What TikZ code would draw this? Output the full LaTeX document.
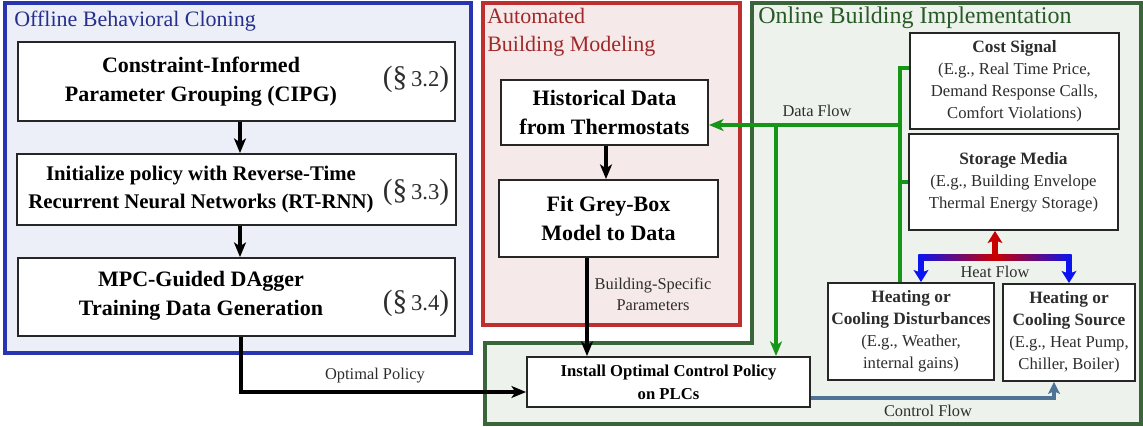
\documentclass[tikz,border=0pt]{standalone}
\usepackage{fontspec}
\setmainfont{Liberation Serif}
\usetikzlibrary{arrows.meta,calc}
\definecolor{bBorder}{RGB}{40,52,176}
\definecolor{bFill}{RGB}{236,238,248}
\definecolor{bTitle}{RGB}{38,48,140}
\definecolor{rBorder}{RGB}{190,48,48}
\definecolor{rFill}{RGB}{246,233,234}
\definecolor{rTitle}{RGB}{160,40,40}
\definecolor{gBorder}{RGB}{58,100,58}
\definecolor{gFill}{RGB}{238,242,236}
\definecolor{gTitle}{RGB}{40,90,40}
\definecolor{dataG}{RGB}{22,150,22}
\definecolor{ctrlB}{RGB}{78,115,148}
\definecolor{heatB}{RGB}{10,20,240}
\definecolor{heatR}{RGB}{200,0,0}
\definecolor{txt}{RGB}{45,45,45}
\newcommand\secref[1]{{\fontsize{22}{24}\selectfont(\S}{\fontsize{17}{20}\selectfont\,#1}{\fontsize{22}{24}\selectfont)}}
\tikzset{
  region/.style={line width=3.5pt},
  box/.style={draw=black!85, line width=1.4pt, fill=white, inner sep=0pt},
  sz/.style 2 args={minimum width=#1*0.75pt, minimum height=#2*0.75pt},
  big/.style={font=\fontsize{16.5}{21.5}\selectfont\bfseries, align=center, text=black, inner sep=0pt},
  mid/.style={font=\fontsize{12.5}{16.5}\selectfont, align=center, text=txt, inner sep=0pt},
  sec/.style={text=txt, inner sep=0pt},
  ttl/.style={font=\fontsize{16.5}{21}\selectfont, inner sep=0pt, align=left},
  lbl/.style={font=\fontsize{12.3}{16}\selectfont, text=txt, inner sep=0pt, align=center},
  blk/.style={line width=2.5pt, -{Stealth[length=11pt,width=9pt,inset=3pt]}},
  grn/.style={draw=dataG, line width=3pt},
  grnA/.style={grn, -{Stealth[length=11pt,width=9pt,inset=3pt]}},
  ctl/.style={draw=ctrlB, line width=2.5pt, -{Stealth[length=9pt,width=9pt,inset=2pt]}},
  hb/.style={draw=heatB, line width=4pt, -{Stealth[length=9pt,width=11pt,inset=2pt]}},
  hr/.style={draw=heatR, line width=4pt, -{Stealth[length=9pt,width=11pt,inset=2pt]}},
}
\begin{document}
\begin{tikzpicture}[x=0.75pt,y=-0.75pt]
\useasboundingbox (0,0) rectangle (1143,427);
% regions
\draw[region, draw=gBorder, fill=gFill] (752,3) -- (1141,3) -- (1141,424) -- (485,424) -- (485,343) -- (752,343) -- cycle;
\draw[region, draw=bBorder, fill=bFill] (5,3) rectangle (471,353);
\draw[region, draw=rBorder, fill=rFill] (483,3) rectangle (740,325);
\node[ttl, text=bTitle, anchor=base west] (tb) at (14,27) {Offline Behavioral Cloning};
\node[ttl, text=rTitle, anchor=north west] (tr) at (487,8) {Automated\\Building Modeling};
\node[ttl, text=gTitle, anchor=base west, font=\fontsize{18}{21}\selectfont] (tg) at (758,24) {Online Building Implementation};
% left boxes
\node[box, sz={437}{79}] (b1) at (236.5,81.5) {};
\node[big] (t1) at (201,81.5) {Constraint-Informed\\Parameter Grouping (CIPG)};
\node[sec] (s1) at (416,79) {\secref{3.2}};
\node[box, sz={439}{71}] (b2) at (236.5,189.5) {};
\node[big, font=\fontsize{15.6}{20.5}\selectfont\bfseries] (t2) at (201,189.5) {Initialize policy with Reverse-Time\\Recurrent Neural Networks (RT-RNN)};
\node[sec] (s2) at (416,192) {\secref{3.3}};
\node[box, sz={437}{78}] (b3) at (236.5,297) {};
\node[big] (t3) at (201,296) {MPC-Guided DAgger\\Training Data Generation};
\node[sec] (s3) at (416,303) {\secref{3.4}};
% middle boxes
\node[box, sz={207}{65}, big] (hist) at (604.5,112.5) {Historical Data\\from Thermostats};
\node[box, sz={219}{77}, big] (fit) at (608.5,218.5) {Fit Grey-Box\\Model to Data};
% right boxes
\node[box, sz={209}{96}, mid] (cost) at (1014.5,81) {{\bfseries\fontsize{13}{16.5}\selectfont Cost Signal}\\(E.g., Real Time Price,\\Demand Response Calls,\\Comfort Violations)};
\node[box, sz={209}{96}, mid] (stor) at (1013.5,182) {{\bfseries\fontsize{13}{16.5}\selectfont Storage Media}\\(E.g., Building Envelope\\Thermal Energy Storage)};
\node[box, sz={166}{97}, mid] (dist) at (911,331.5) {{\bfseries\fontsize{13}{16.5}\selectfont Heating or}\\{\bfseries\fontsize{13}{16.5}\selectfont Cooling Disturbances}\\(E.g., Weather,\\internal gains)};
\node[box, sz={132}{97}, mid] (src) at (1069,332.5) {{\bfseries\fontsize{13}{16.5}\selectfont Heating or}\\{\bfseries\fontsize{13}{16.5}\selectfont Cooling Source}\\(E.g., Heat Pump,\\Chiller, Boiler)};
\node[box, sz={283}{50}, mid, font=\fontsize{12.5}{17}\selectfont\bfseries, text=black] (inst) at (668.5,382) {Install Optimal Control Policy\\on PLCs};
% black arrows
\draw[blk] (b1.south -| 240,0) -- (b2.north -| 240,0);
\draw[blk] (b2.south -| 240,0) -- (b3.north -| 240,0);
\draw[blk] (hist.south -| 606,0) -- (fit.north -| 606,0);
\coordinate (opt) at (241,392);
\draw[blk] (b3.south -| opt) -- (opt) -- (inst.west |- opt);
\coordinate (bsp) at (587,300);
\draw[blk] (fit.south -| bsp) -- (inst.north -| bsp);
% data flow
\coordinate (dv) at (900,125);
\coordinate (dd) at (776,125);
\draw[grn] (cost.west |- 0,68) -| (dist.north -| dv);
\draw[grn] (stor.west) -- (stor.west -| dv);
\draw[grnA] (dv) -- (hist.east |- dv);
\draw[grnA] (dd) -- (inst.north -| dd);
% control flow
\coordinate (cf) at (1054,398);
\draw[ctl] (inst.east |- cf) -- (cf) -- (src.south -| cf);
% heat flow
\coordinate (hL) at (921,258);
\coordinate (hM) at (995,258);
\coordinate (hR) at (1069,258);
\draw[hb] ($(hL)+(0,-3)$) -- (dist.north -| hL);
\draw[hb] ($(hR)+(0,-3)$) -- (src.north -| hR);
\draw[hr] (hM) -- (stor.south -| hM);
\shade[left color=heatB, right color=heatB, middle color=heatR] ($(hL)+(-2.7,-3)$) rectangle ($(hR)+(2.7,3)$);
% labels
\node[lbl] (lopt) at (375,376) {Optimal Policy};
\node[lbl] (lbsp) at (653,294) {Building-Specific\\Parameters};
\node[lbl] (ldat) at (817,111) {Data Flow};
\node[lbl] (lhf) at (995,272) {Heat Flow};
\node[lbl] (lcf) at (928,411) {Control Flow};
\end{tikzpicture}
\end{document}
